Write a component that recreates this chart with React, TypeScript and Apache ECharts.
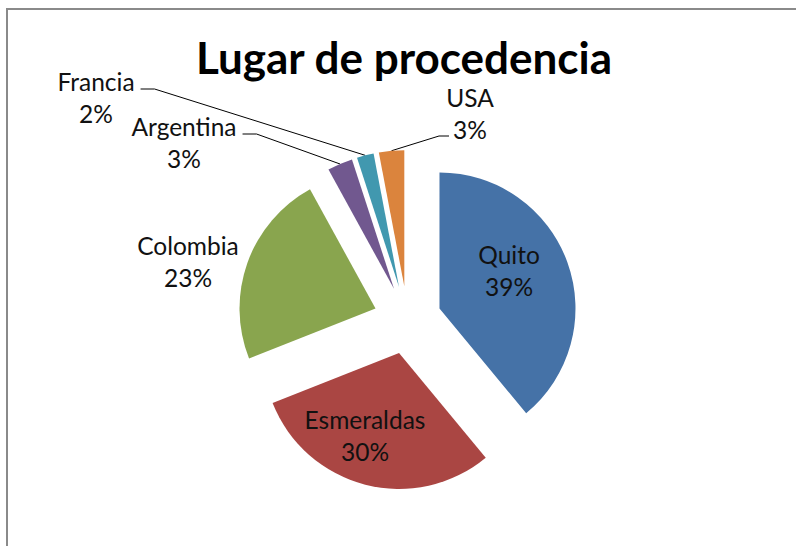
import React, { useEffect, useRef } from 'react';
import * as echarts from 'echarts';

const chartTitle = 'Lugar de procedencia';
const categories = ['Quito', 'Esmeraldas', 'Colombia', 'Argentina', 'Francia', 'USA'];
const values = [39, 30, 23, 3, 2, 3];

const colors = ['#4572A7', '#AA4643', '#89A54E', '#71588F', '#4198AF', '#DB843D'];
const withLine = [false, false, false, true, true, true];
// label block centres (layout only)
const labelPos: [number, number][] = [
  [509, 270],
  [365, 435],
  [188, 261],
  [184, 142],
  [96, 97],
  [470, 113],
];
const CENTER: [number, number] = [407.5, 320];
const RADIUS = 136;
const EXPLODE = 34;

export default function App() {
  const ref = useRef<HTMLDivElement>(null);
  useEffect(() => {
    if (!ref.current) return;
    const chart = echarts.init(ref.current, undefined, { renderer: 'svg' });
    const sliceData = categories.map((name, i) => ({
      name,
      value: values[i],
      selected: true,
      itemStyle: { color: colors[i] },
    }));
    const labelData = categories.map((name, i) => ({
      name,
      value: values[i],
      labelLine: { show: withLine[i] },
    }));
    chart.setOption({
      animation: false,
      title: {
        text: chartTitle,
        left: 196,
        top: 35,
        padding: 0,
        textStyle: {
          fontFamily: 'Lato',
          fontWeight: 'bold',
          fontSize: 44,
          lineHeight: 44,
          color: '#000',
        },
      },
      graphic: [
        {
          type: 'rect',
          shape: { x: 7, y: 9, width: 900, height: 700 },
          style: { fill: 'none', stroke: '#8a8a8a', lineWidth: 2 },
          silent: true,
        },
      ],
      series: [
        {
          type: 'pie',
          center: CENTER,
          radius: RADIUS,
          startAngle: 90,
          clockwise: true,
          selectedMode: 'multiple',
          selectedOffset: EXPLODE,
          data: sliceData,
          label: { show: false },
          labelLine: { show: false },
          emphasis: { disabled: true },
          silent: true,
        },
        {
          type: 'pie',
          center: CENTER,
          radius: RADIUS,
          startAngle: 90,
          clockwise: true,
          percentPrecision: 0,
          selectedMode: false,
          data: labelData,
          itemStyle: { color: 'rgba(0,0,0,0)' },
          silent: true,
          emphasis: { disabled: true },
          label: {
            position: 'outside',
            formatter: '{b}\n{d}%',
            fontFamily: 'Lato',
            fontSize: 24.5,
            lineHeight: 32,
            color: '#111',
          },
          labelLine: { lineStyle: { color: '#000', width: 1 } },
          labelLayout: (params: any) => {
            const i = params.dataIndex;
            const [x, y] = labelPos[i];
            const out: any = { x, y, align: 'center', verticalAlign: 'middle' };
            if (withLine[i] && params.labelLinePoints) {
              const w = params.labelRect.width;
              const p0 = params.labelLinePoints[0];
              const vx = p0[0] - CENTER[0];
              const vy = p0[1] - CENTER[1];
              const len = Math.sqrt(vx * vx + vy * vy) || 1;
              const start = [p0[0] + (vx / len) * EXPLODE, p0[1] + (vy / len) * EXPLODE];
              const isLeft = x < start[0];
              const endX = isLeft ? x + w / 2 + 6 : x - 21;
              const endY = isLeft ? y - 8 : y + 23;
              const elbowX = isLeft ? endX + 14 : endX - 10;
              out.labelLinePoints = [start, [elbowX, endY], [endX, endY]];
            }
            return out;
          },
        },
      ],
    });
    return () => chart.dispose();
  }, []);
  return (
    <div
      ref={ref}
      style={{ position: 'fixed', left: 0, top: 0, width: 796, height: 546, background: '#fff' }}
    />
  );
}
